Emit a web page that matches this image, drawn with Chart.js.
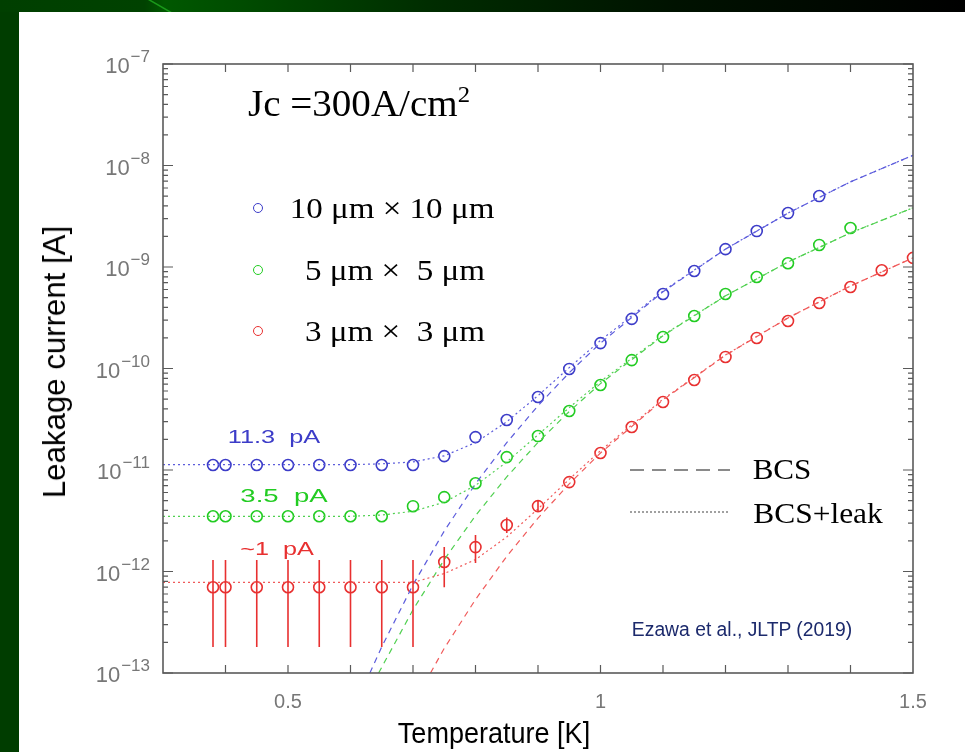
<!DOCTYPE html>
<html>
<head>
<meta charset="utf-8">
<script src="https://cdn.jsdelivr.net/npm/chart.js@4.4.0/dist/chart.umd.min.js"></script>
<style>
html,body{margin:0;padding:0;width:965px;height:752px;overflow:hidden;background:#003d00}
#top{position:absolute;left:0;top:0;width:965px;height:12px;
  background:linear-gradient(to right,#003f00 0%,#004200 15%,#005800 17%,#004c00 25%,#002c00 45%,#001200 70%,#000 100%)}
#diag{position:absolute;left:148px;top:0;width:3px;height:12px;background:#1a9a1a;transform:skewX(60deg);transform-origin:top left}
#panel{position:absolute;left:19px;top:12px;width:946px;height:740px;background:#fff}
#c{position:absolute;left:0;top:0}
.t{position:absolute;white-space:pre;line-height:1;transform-origin:50% 50%}
.serif{font-family:"Liberation Serif","Times New Roman",serif;color:#000}
.sans{font-family:"Liberation Sans",Arial,sans-serif}
.mk{position:absolute;width:8px;height:8px;border-radius:50%;border:1.6px solid;transform:translate(-50%,-50%)}
.ln{position:absolute;width:100px;height:2px}
</style>
</head>
<body>
<div id="top"></div><div id="diag"></div>
<div id="panel"></div>
<canvas id="c" width="965" height="752"></canvas>

<div class="t serif" data-cx="359" data-cy="102" data-w="222" style="font-size:38px">Jc =300A/cm<span style="font-size:24px;vertical-align:14px">2</span></div>

<div class="mk" style="left:258px;top:208px;border-color:#3c3cc8"></div>
<div class="t serif" data-cx="392" data-cy="208" data-w="205" style="font-size:30px">10 μm × 10 μm</div>
<div class="mk" style="left:258px;top:270px;border-color:#22cc22"></div>
<div class="t serif" data-cx="395" data-cy="270" data-w="180" style="font-size:30px">5 μm ×  5 μm</div>
<div class="mk" style="left:258px;top:331px;border-color:#e83030"></div>
<div class="t serif" data-cx="395" data-cy="331" data-w="180" style="font-size:30px">3 μm ×  3 μm</div>

<div class="t sans" data-cx="274" data-cy="436" data-w="92" style="font-size:19px;color:#3c3cc8">11.3  pA</div>
<div class="t sans" data-cx="284" data-cy="495" data-w="87" style="font-size:19px;color:#22cc22">3.5  pA</div>
<div class="t sans" data-cx="277" data-cy="548" data-w="73" style="font-size:19px;color:#e83030">~1  pA</div>

<div class="ln" style="left:630px;top:469px;background:repeating-linear-gradient(to right,#8a8a8a 0 14px,transparent 14px 22px)"></div>
<div class="t serif" data-cx="782" data-cy="469" data-w="59" style="font-size:30px">BCS</div>
<div class="ln" style="left:630px;top:511px;background:repeating-linear-gradient(to right,#a0a0a0 0 2px,transparent 2px 4px)"></div>
<div class="t serif" data-cx="818" data-cy="513" data-w="130" style="font-size:30px">BCS+leak</div>

<div class="t sans" data-cx="742" data-cy="629" data-w="220" style="font-size:20px;color:#1c2a6c">Ezawa et al., JLTP (2019)</div>

<div class="t sans" data-cx="494" data-cy="733" data-w="192" style="font-size:30px;color:#000">Temperature [K]</div>
<div class="t sans" data-cx="54" data-cy="362" data-w="272" data-rot="1" style="font-size:32px;color:#000">Leakage current [A]</div>

<script>
// measured temperatures [K]
const temps = [0.38,0.40,0.45,0.50,0.55,0.60,0.65,0.70,0.75,0.80,0.85,0.90,0.95,1.00,1.05,1.10,1.15,1.20,1.25,1.30,1.35,1.40,1.45,1.50];
// leakage current [A]
const current10um = [1.12e-11,1.12e-11,1.12e-11,1.12e-11,1.12e-11,1.12e-11,1.12e-11,1.12e-11,1.37e-11,2.11e-11,3.11e-11,5.24e-11,9.9e-11,1.78e-10,3.08e-10,5.42e-10,9.14e-10,1.50e-9,2.26e-9,3.40e-9,5.0e-9];
const current5um = [3.5e-12,3.5e-12,3.5e-12,3.5e-12,3.5e-12,3.5e-12,3.5e-12,4.4e-12,5.4e-12,7.4e-12,1.34e-11,2.16e-11,3.81e-11,6.87e-11,1.21e-10,2.04e-10,3.29e-10,5.42e-10,7.97e-10,1.09e-9,1.65e-9,2.42e-9];
const current3um = [7.0e-13,7.0e-13,7.0e-13,7.0e-13,7.0e-13,7.0e-13,7.0e-13,7.0e-13,1.24e-12,1.74e-12,2.87e-12,4.41e-12,7.6e-12,1.47e-11,2.65e-11,4.68e-11,7.7e-11,1.30e-10,2.0e-10,2.94e-10,4.42e-10,6.35e-10,9.3e-10,1.23e-9];
const err3umLow  = [1.8e-13,1.8e-13,1.8e-13,1.8e-13,1.8e-13,1.8e-13,1.8e-13,1.8e-13,7.0e-13,1.21e-12,2.4e-12,3.9e-12];
const err3umHigh = [1.3e-12,1.3e-12,1.3e-12,1.3e-12,1.3e-12,1.3e-12,1.3e-12,1.3e-12,1.74e-12,2.29e-12,3.4e-12,5.0e-12];

// BCS curves (dashed)
const bcs10umT = [0.631,0.65,0.70,0.75,0.80,0.85,0.90,0.95,1.00,1.10,1.20,1.30,1.40,1.50];
const bcs10um  = [1.0e-13,1.81e-13,7.4e-13,2.5e-12,7.3e-12,1.86e-11,4.3e-11,9.1e-11,1.78e-10,5.7e-10,1.5e-9,3.4e-9,6.9e-9,1.26e-8];
const bcs5umT  = [0.645,0.70,0.75,0.80,0.85,0.90,0.95,1.00,1.10,1.20,1.30,1.40,1.50];
const bcs5um   = [1.0e-13,4.2e-13,1.31e-12,3.55e-12,8.55e-12,1.87e-11,3.77e-11,7.1e-11,2.1e-10,5.2e-10,1.12e-9,2.17e-9,3.83e-9];
const bcs3umT  = [0.728,0.75,0.80,0.85,0.90,0.95,1.00,1.10,1.20,1.30,1.40,1.50];
const bcs3um   = [1.0e-13,1.75e-13,5.3e-13,1.41e-12,3.36e-12,7.3e-12,1.47e-11,4.9e-11,1.35e-10,3.15e-10,6.5e-10,1.23e-9];

// BCS+leak curves (dotted)
const leakT     = [0.30,0.60,0.65,0.70,0.75,0.80,0.85,0.90,0.95,1.00,1.10,1.20,1.30,1.40,1.50];
const leak10um  = [1.13e-11,1.13e-11,1.15e-11,1.2e-11,1.38e-11,1.86e-11,2.99e-11,5.4e-11,1.02e-10,1.89e-10,5.8e-10,1.5e-9,3.4e-9,6.9e-9,1.26e-8];
const leak5um   = [3.5e-12,3.5e-12,3.6e-12,3.92e-12,4.81e-12,7.05e-12,1.2e-11,2.22e-11,4.12e-11,7.45e-11,2.13e-10,5.2e-10,1.12e-9,2.17e-9,3.83e-9];
const leak3um   = [7.8e-13,7.8e-13,7.8e-13,7.8e-13,9.55e-13,1.31e-12,2.19e-12,4.14e-12,8.1e-12,1.55e-11,4.98e-11,1.36e-10,3.16e-10,6.5e-10,1.23e-9];

// axes
const yDecades = [-13,-12,-11,-10,-9,-8,-7];
const xLabelVals = [0.5,1.0,1.5];
const xTickLabels = ['0.5','1','1.5'];
const xMinorTicks = [0.4,0.5,0.6,0.7,0.8,0.9,1.0,1.1,1.2,1.3,1.4];

const BLUE='#3c3cc8', GREEN='#22cc22', RED='#e83030';
const BLUE_L='#5c5cdc', GREEN_L='#50d050', RED_L='#f05a5a';
const TICK_FONT='Liberation Sans, Arial, sans-serif';

const pts=(xs,ys)=>ys.map((v,i)=>({x:xs[i],y:v}));

const line=(data,color,dash)=>({type:'line',data,borderColor:color,borderWidth:1.2,borderDash:dash,pointRadius:0,fill:false,tension:0});
const marks=(data,color)=>({type:'scatter',data,showLine:false,pointStyle:'circle',pointRadius:5.5,pointBorderWidth:1.6,pointBorderColor:color,pointBackgroundColor:'rgba(0,0,0,0)'});

// box, inward ticks and 10^n labels
const frame={
  id:'frame',
  afterDraw(chart){
    const {ctx,chartArea:a,scales:{x,y}}=chart;
    ctx.save();
    ctx.strokeStyle='#5a5a5a';
    ctx.lineWidth=1.2;
    ctx.beginPath();
    xMinorTicks.forEach(v=>{const px=x.getPixelForValue(v);ctx.moveTo(px,a.bottom);ctx.lineTo(px,a.bottom-8);ctx.moveTo(px,a.top);ctx.lineTo(px,a.top+8);});
    yDecades.forEach(e=>{
      for(let m=1;m<10;m++){
        if(e===-7&&m>1)break;
        const py=y.getPixelForValue(m*Math.pow(10,e));
        const len=m===1?10:5;
        ctx.moveTo(a.left,py);ctx.lineTo(a.left+len,py);
        ctx.moveTo(a.right,py);ctx.lineTo(a.right-len,py);
      }
    });
    ctx.stroke();
    ctx.lineWidth=1.6;
    ctx.strokeRect(a.left,a.top,a.right-a.left,a.bottom-a.top);

    ctx.fillStyle='#777';
    ctx.textBaseline='alphabetic';
    ctx.textAlign='left';
    const right=a.left-13;
    yDecades.forEach(e=>{
      const py=y.getPixelForValue(Math.pow(10,e));
      const ex='\u2212'+Math.abs(e);
      ctx.font='17px '+TICK_FONT; const we=ctx.measureText(ex).width;
      ctx.font='22px '+TICK_FONT; const wb=ctx.measureText('10').width;
      ctx.fillText('10',right-we-wb-1,py+9);
      ctx.font='17px '+TICK_FONT;
      ctx.fillText(ex,right-we,py-2);
    });
    ctx.restore();
  }
};

const errBars={
  id:'errBars',
  afterDatasetsDraw(chart){
    const {ctx,chartArea:a,scales:{x,y}}=chart;
    ctx.save();
    ctx.beginPath();ctx.rect(a.left,a.top,a.right-a.left,a.bottom-a.top);ctx.clip();
    ctx.strokeStyle=RED;ctx.lineWidth=1.6;
    ctx.beginPath();
    err3umLow.forEach((lo,i)=>{
      const px=x.getPixelForValue(temps[i]);
      ctx.moveTo(px,y.getPixelForValue(lo));ctx.lineTo(px,y.getPixelForValue(err3umHigh[i]));
    });
    ctx.stroke();
    ctx.restore();
  }
};

new Chart(document.getElementById('c'),{
  data:{datasets:[
    line(pts(leakT,leak10um),BLUE_L,[2,3]),
    line(pts(leakT,leak5um),GREEN_L,[2,3]),
    line(pts(leakT,leak3um),RED_L,[2,3]),
    line(pts(bcs10umT,bcs10um),BLUE_L,[6,5]),
    line(pts(bcs5umT,bcs5um),GREEN_L,[6,5]),
    line(pts(bcs3umT,bcs3um),RED_L,[6,5]),
    marks(pts(temps,current10um),BLUE),
    marks(pts(temps,current5um),GREEN),
    marks(pts(temps,current3um),RED)
  ]},
  options:{
    responsive:false,devicePixelRatio:1,animation:false,
    layout:{padding:{left:0,top:64,right:52,bottom:0}},
    plugins:{legend:{display:false},tooltip:{enabled:false}},
    scales:{
      x:{type:'linear',position:'bottom',min:0.3,max:1.5,
        grid:{display:false,drawTicks:false},border:{display:false},
        afterBuildTicks:s=>{s.ticks=xLabelVals.map(v=>({value:v}));},
        afterFit:s=>{s.height=79;},
        ticks:{padding:17,color:'#777',font:{family:TICK_FONT,size:20},maxRotation:0,
          callback:v=>{const i=xLabelVals.findIndex(t=>Math.abs(t-v)<1e-6);return i<0?'':xTickLabels[i];}}},
      y:{type:'logarithmic',min:1e-13,max:1e-7,
        grid:{display:false,drawTicks:false},border:{display:false},
        afterBuildTicks:s=>{s.ticks=yDecades.map(e=>({value:Math.pow(10,e)}));},
        afterFit:s=>{s.width=163;},
        ticks:{display:false}}
    }
  },
  plugins:[errBars,frame]
});

// fit overlay text to the widths seen in the figure
document.querySelectorAll('.t').forEach(el=>{
  const r=(+el.dataset.w)/el.offsetWidth;
  el.style.left=el.dataset.cx+'px';
  el.style.top=el.dataset.cy+'px';
  el.style.transform='translate(-50%,-50%)'+(el.dataset.rot?' rotate(-90deg)':'')+' scaleX('+r.toFixed(3)+')';
});
</script>
</body>
</html>
